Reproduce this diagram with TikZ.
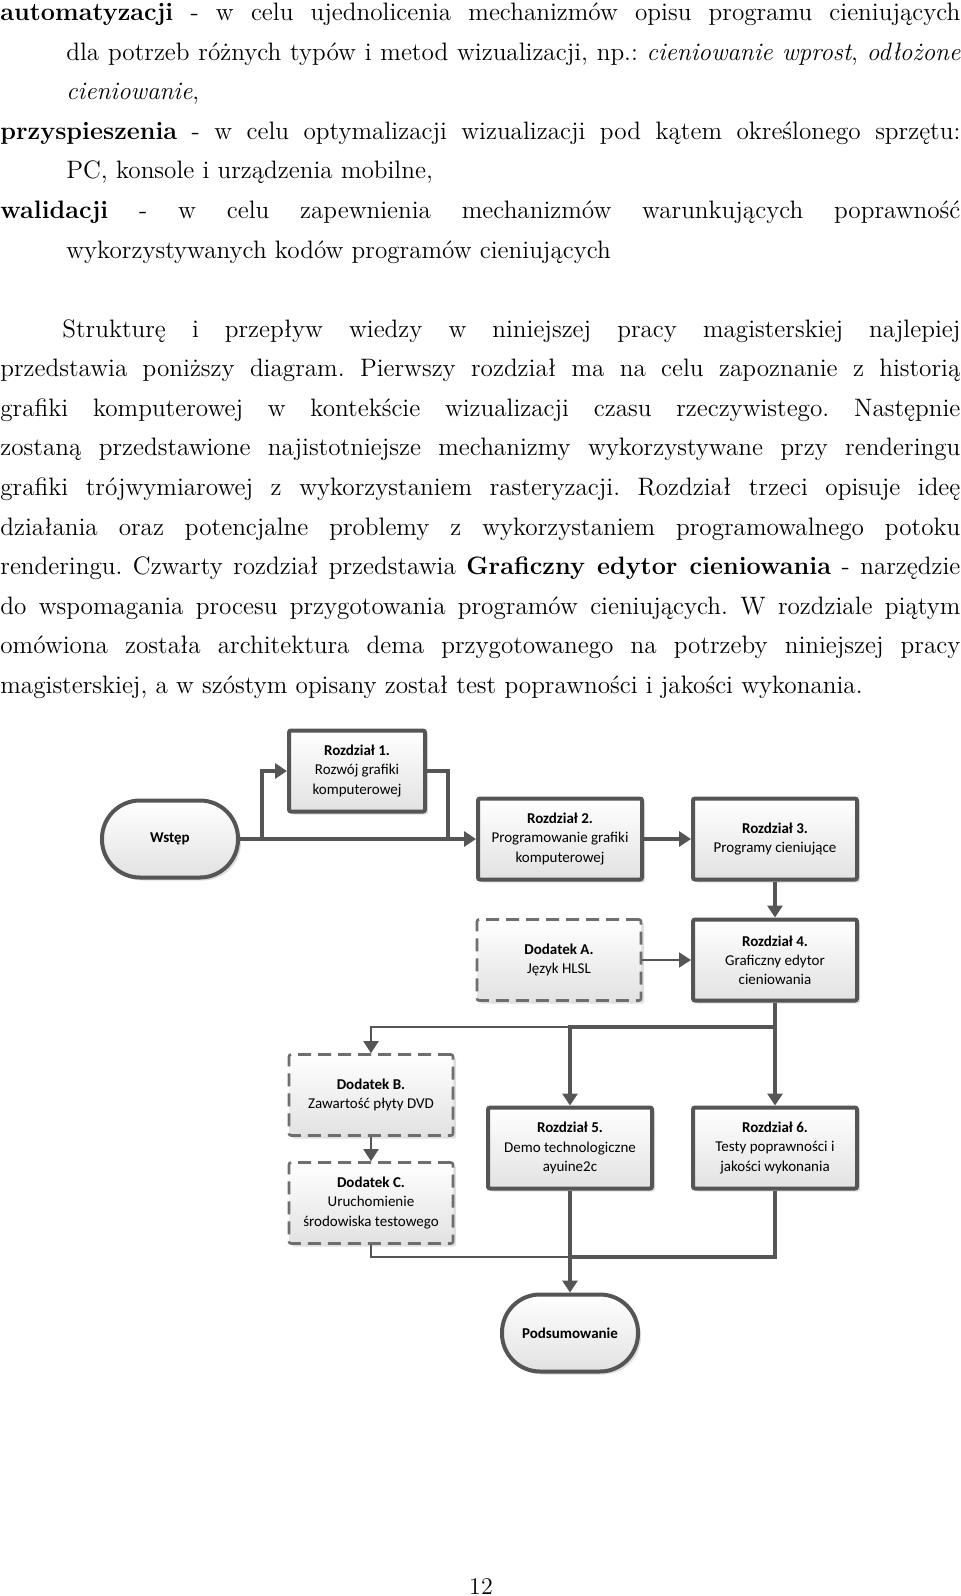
\documentclass[tikz,border=0pt]{standalone}
\usepackage{fontspec}
\newfontfamily\diagfont{Carlito}
\usepackage{tikz}
\usetikzlibrary{arrows.meta,positioning,shadows}
\definecolor{flowgray}{HTML}{555555}
\definecolor{dashgray}{HTML}{6E6E6E}
\definecolor{boxshade}{HTML}{E2E2E2}

\begin{document}
\begin{tikzpicture}[x=0.5pt, y=-0.5pt, >={Triangle[length=6pt,width=7.5pt]},
  bodytext/.style={inner sep=0pt, text width=480pt, align=justify, font=\fontsize{12.6}{19.8}\selectfont\frenchspacing},
  chapbox/.style={draw=flowgray, line width=2pt, rounded corners=1pt, top color=white, bottom color=boxshade,
    drop shadow={shadow xshift=1.5pt, shadow yshift=-1.5pt, opacity=.25},
    minimum width=82pt, minimum height=40.5pt, inner sep=0pt, align=center,
    font=\diagfont\fontsize{7.5}{9.6}\selectfont},
  apxbox/.style={chapbox, draw=dashgray, line width=1.3pt, dash pattern=on 6.5pt off 3.5pt},
  termbox/.style={chapbox, rounded corners=19pt, minimum width=68pt, minimum height=38.5pt},
  flow/.style={draw=flowgray, line width=2pt},
  thinflow/.style={draw=flowgray, line width=1pt}]
\useasboundingbox (0,0) rectangle (960,1596);
% list of goals
\node[bodytext, anchor=base west] (goals) at (0,20.4) {%
  \hangindent=33pt\hangafter=1\textbf{automatyzacji} - w celu ujednolicenia mechanizmów opisu programu cieniujących\linebreak
  dla potrzeb różnych typów i metod wizualizacji, np.: \emph{cieniowanie wprost}, \emph{odłożone\linebreak
  cieniowanie},\par
  \hangindent=33pt\hangafter=1\textbf{przyspieszenia} - w celu optymalizacji wizualizacji pod kątem określonego sprzętu:\linebreak
  PC, konsole i urządzenia mobilne,\par
  \hangindent=33pt\hangafter=1\textbf{walidacji} - w celu zapewnienia mechanizmów warunkujących poprawność\linebreak
  wykorzystywanych kodów programów cieniujących\par};
% structure paragraph
\node[bodytext, anchor=base west] (outline) at (0,337) {%
  \hspace*{31pt}Strukturę i przepływ wiedzy w niniejszej pracy magisterskiej najlepiej\linebreak
  przedstawia poniższy diagram. Pierwszy rozdział ma na celu zapoznanie z historią\linebreak
  grafiki komputerowej w kontekście wizualizacji czasu rzeczywistego. Następnie\linebreak
  zostaną przedstawione najistotniejsze mechanizmy wykorzystywane przy renderingu\linebreak
  grafiki trójwymiarowej z wykorzystaniem rasteryzacji. Rozdział trzeci opisuje ideę\linebreak
  działania oraz potencjalne problemy z wykorzystaniem programowalnego potoku\linebreak
  renderingu. Czwarty rozdział przedstawia \textbf{Graficzny edytor cieniowania} - narzędzie\linebreak
  do wspomagania procesu przygotowania programów cieniujących. W rozdziale piątym\linebreak
  omówiona została architektura dema przygotowanego na potrzeby niniejszej pracy\linebreak
  magisterskiej, a w szóstym opisany został test poprawności i jakości wykonania.\par};
% chapters
\node[termbox] (wstep) at (170,839) {\textbf{Wstęp}};
\node[chapbox, minimum width=68pt] (r1) at (357,771) {\textbf{Rozdział 1.}\\Rozwój grafiki\\komputerowej};
\node[chapbox] (r2) at (560,839) {\textbf{Rozdział 2.}\\Programowanie grafiki\\komputerowej};
\node[chapbox] (r3) at (775,839) {\textbf{Rozdział 3.}\\Programy cieniujące};
\node[apxbox] (dA) at (559,960) {\textbf{Dodatek A.}\\Język HLSL};
\node[chapbox] (r4) at (775,960) {\textbf{Rozdział 4.}\\Graficzny edytor\\cieniowania};
\node[apxbox] (dB) at (371,1095) {\textbf{Dodatek B.}\\Zawartość płyty DVD};
\node[apxbox] (dC) at (371,1203) {\textbf{Dodatek C.}\\Uruchomienie\\środowiska testowego};
\node[chapbox] (r5) at (570,1148) {\textbf{Rozdział 5.}\\Demo technologiczne\\ayuine2c};
\node[chapbox] (r6) at (775,1148) {\textbf{Rozdział 6.}\\Testy poprawności i\\jakości wykonania};
\node[termbox] (pods) at (570,1333) {\textbf{Podsumowanie}};
% connectors
\coordinate (split) at (262,839);
\coordinate (merge) at (448,839);
\coordinate (fork) at (570,1027);
\coordinate (join) at (570,1257);
\draw[flow,->] (wstep.east) -- (r2.west);
\draw[flow,->] (split) |- (r1.west);
\draw[flow] (r1.east) -| (merge);
\draw[flow,->] (r2.east) -- (r3.west);
\draw[flow,->] (r3.south) -- (r4.north);
\draw[thinflow,->] (dA.east) -- (r4.west);
\draw[flow,->] (r4.south) |- (fork) -- (r5.north);
\draw[flow,->] (r4.south) -- (r6.north);
\draw[thinflow,->] (fork) -| (dB.north);
\draw[thinflow,->] (dB.south) -- (dC.north);
\draw[flow] (r6.south) |- (join);
\draw[thinflow] (dC.south) |- (join);
\draw[flow,->] (r5.south) -- (pods.north);
% page number
\node[inner sep=0pt, anchor=base, font=\fontsize{12}{14}\selectfont] (pagenum) at (481,1594) {12};
\end{tikzpicture}
\end{document}
